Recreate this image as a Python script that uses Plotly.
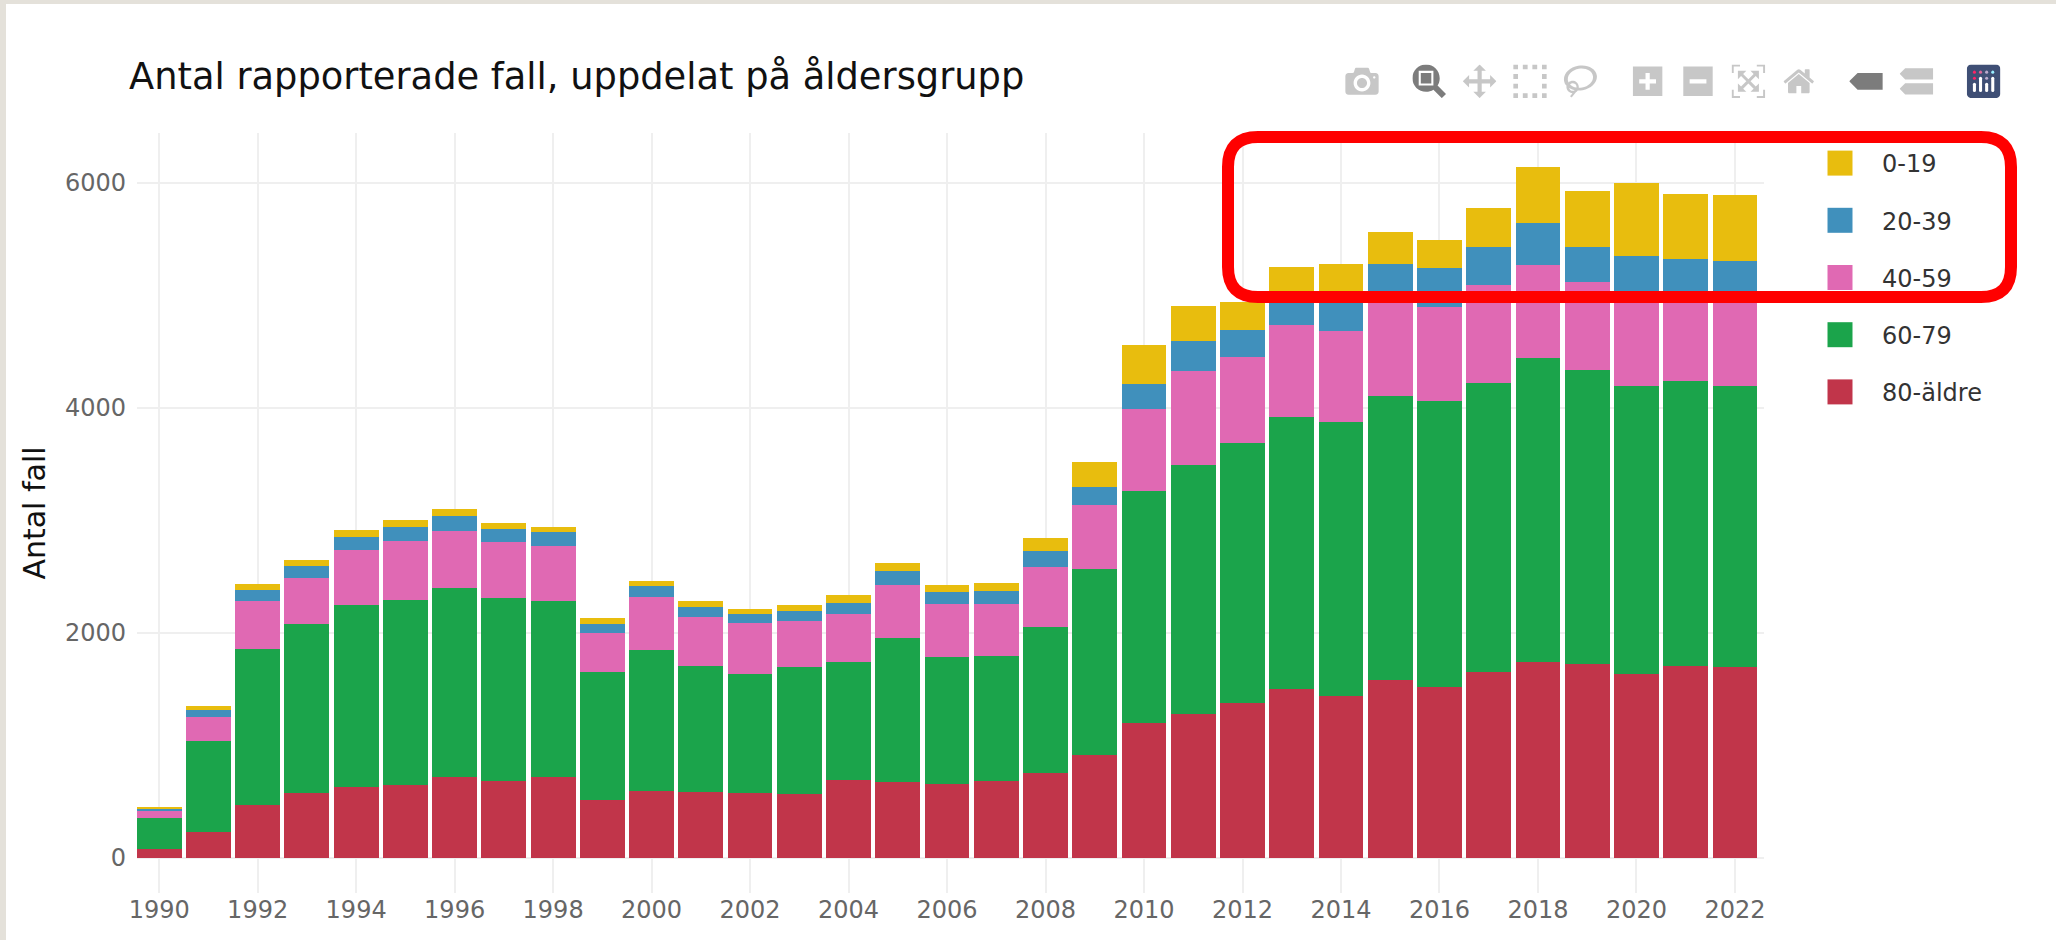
import plotly.graph_objects as go

years = list(range(1990, 2023))
age_80 = [80,230,467,582,635,647,718,682,718,517,594,588,582,570,691,679,656,687,758,918,1203,1277,1378,1502,1437,1582,1523,1656,1742,1727,1636,1710,1695]
age_60 = [274,810,1394,1495,1613,1645,1678,1628,1569,1134,1255,1120,1052,1132,1055,1277,1131,1109,1298,1648,2059,2216,2311,2421,2436,2525,2542,2569,2699,2611,2563,2530,2501]
age_40 = [68,210,420,413,493,526,511,499,484,349,470,437,458,401,419,472,467,464,534,572,729,839,764,815,807,883,833,868,827,785,801,750,804]
age_20 = [15,65,97,104,116,127,133,116,124,80,98,82,73,89,104,122,106,112,139,160,219,264,239,252,300,287,346,341,379,311,354,338,307]
age_0 = [15,32,59,56,56,56,62,53,47,50,44,57,45,59,65,70,65,71,115,225,350,311,253,260,297,287,249,341,495,495,646,571,583]

W, H = 2056, 940
L, R, T, B = 137, 1764, 133, 893
FONT = "DejaVu Sans"

def px(x):
    return (x - L) / (R - L)

def py(y):
    return (B - y) / (B - T)

def rounded_path(x0, y0, x1, y1, r):
    pts = [
        ("M", (x0 + r, y0)), ("L", (x1 - r, y0)), ("Q", (x1, y0), (x1, y0 + r)),
        ("L", (x1, y1 - r)), ("Q", (x1, y1), (x1 - r, y1)), ("L", (x0 + r, y1)),
        ("Q", (x0, y1), (x0, y1 - r)), ("L", (x0, y0 + r)), ("Q", (x0, y0), (x0 + r, y0)),
    ]
    out = []
    for p in pts:
        out.append(p[0] + " ".join(f"{px(a):.5f},{py(b):.5f}" for a, b in p[1:]))
    return " ".join(out) + " Z"

fig = go.Figure()
series = [("80-äldre", age_80, "#C1354A"), ("60-79", age_60, "#1BA44B"), ("40-59", age_40, "#E069B3"),
          ("20-39", age_20, "#4090BC"), ("0-19", age_0, "#E8BD0E")]
for i, (name, vals, color) in enumerate(series):
    fig.add_trace(go.Bar(x=years, y=vals, name=name, legendgroup=name, legendrank=1000 - i,
                         marker=dict(color=color, line=dict(width=0))))

beige = "#E4E1DA"
fig.update_layout(
    width=W, height=H, barmode="stack", bargap=0.09,
    margin=dict(l=L, r=W - R, t=T, b=H - B, autoexpand=False),
    paper_bgcolor="white", plot_bgcolor="white",
    font=dict(family=FONT, color="#444"),
    title=dict(text="Antal rapporterade fall, uppdelat på åldersgrupp", x=129 / W, xanchor="left", xref="container",
               y=1 - 76 / H, yanchor="middle", font=dict(family=FONT, size=36.8, color="#111")),
    xaxis=dict(range=[1989.55, 2022.59], dtick=2, tick0=1990, showgrid=True, gridcolor="#EFEFEF", gridwidth=2,
               zeroline=False, showline=False, tickfont=dict(family=FONT, size=24, color="#666")),
    yaxis=dict(range=[-311, 6444], dtick=2000, tick0=0, showgrid=True, gridcolor="#EFEFEF", gridwidth=2,
               zeroline=False, showline=False, tickfont=dict(family=FONT, size=24, color="#666"), ticklabelstandoff=10,
               title=dict(text="Antal fall", font=dict(family=FONT, size=30, color="#111"), standoff=10)),
    legend=dict(x=px(1798), xanchor="left", y=py(141), yanchor="top", itemwidth=74, tracegroupgap=23,
                traceorder="grouped", bgcolor="rgba(0,0,0,0)", font=dict(family=FONT, size=24, color="#333")),
    modebar=dict(color="rgba(68,68,68,0.3)", activecolor="rgba(68,68,68,0.7)", bgcolor="rgba(0,0,0,0)"),
    shapes=[
        dict(type="rect", xref="paper", yref="paper", x0=px(0), x1=px(6), y0=py(H), y1=py(0), fillcolor=beige, line_width=0, layer="below"),
        dict(type="rect", xref="paper", yref="paper", x0=px(0), x1=px(W), y0=py(4), y1=py(0), fillcolor=beige, line_width=0, layer="below"),
        dict(type="path", xref="paper", yref="paper", path=rounded_path(1228, 137, 2011, 297, 30),
             line=dict(color="#FF0000", width=12), layer="above"),
    ],
)

post = """
document.body.style.margin='0';
document.body.style.overflow='hidden';
function tweak(){
  document.querySelectorAll('.legendpoints path').forEach(function(p){p.setAttribute('d','M12.5,12.5H-12.5V-12.5H12.5Z');});
  var s=document.querySelectorAll('.modebar-btn.plotlyjsicon svg rect, .modebar-btn.plotlyjsicon svg path');
  if(s.length){s[0].style.fill='#3f4f75';}
}
tweak();
setTimeout(tweak,50);
var mb=document.querySelector('.modebar-container');
if(mb){mb.style.transformOrigin='top right';mb.style.transform='translate(-43px,54px) scale(2.1,2.1)';}
"""

config = dict(
    displayModeBar=True, displaylogo=True,
    modeBarButtons=[["toImage"], ["zoom2d", "pan2d", "select2d", "lasso2d"],
                    ["zoomIn2d", "zoomOut2d", "autoScale2d", "resetScale2d"],
                    ["hoverClosestCartesian", "hoverCompareCartesian"]],
)
fig.write_html("out.html", config=config, post_script=post)
